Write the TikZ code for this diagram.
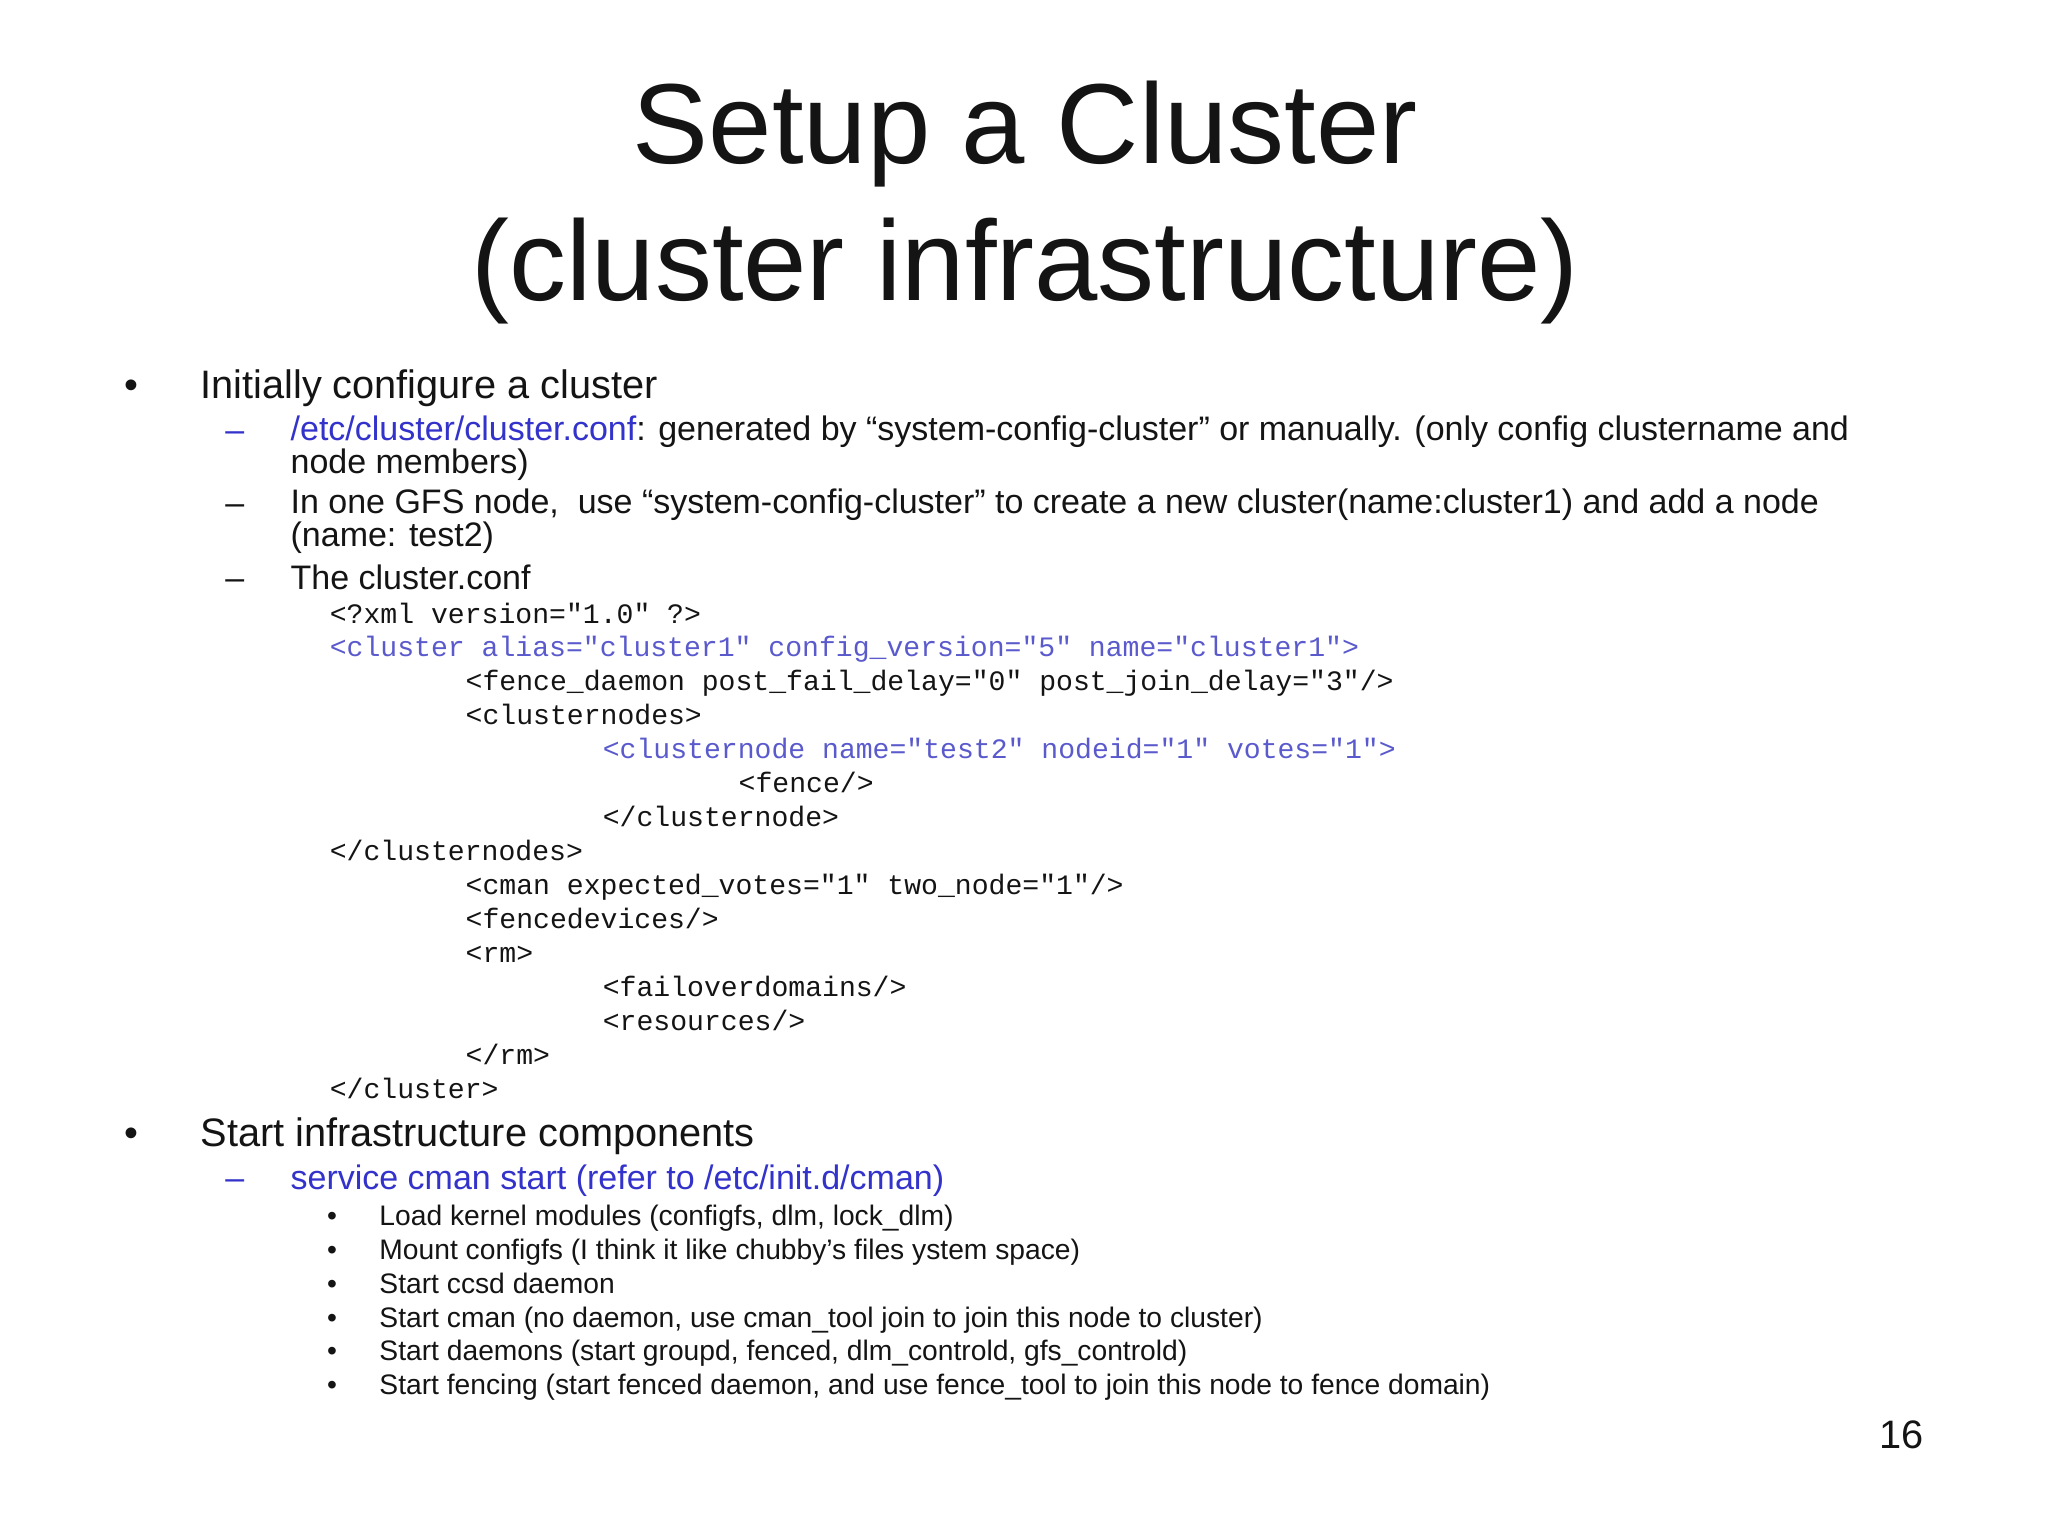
\documentclass[tikz,border=0pt]{standalone}
\usepackage{fontspec}
\setmainfont{Liberation Sans}
\newfontfamily\cmono{Liberation Mono}
\definecolor{lnk}{RGB}{51,51,204}
\definecolor{cblue}{RGB}{90,90,205}
\definecolor{ink}{RGB}{20,20,20}
\begin{document}
\begin{tikzpicture}[x=0.01306cm,y=-0.01306cm,
 every node/.style={inner sep=0,anchor=base west,text=ink},
 ttl/.style={font=\fontsize{32.4}{36}\selectfont,anchor=base},
 lone/.style={font=\fontsize{11.3}{13}\selectfont},
 ltwo/.style={font=\fontsize{9.67}{9.3}\selectfont,align=left},
 lthree/.style={font=\fontsize{8.03}{9}\selectfont},
 code/.style={font=\cmono\fontsize{8}{9}\selectfont}]
\useasboundingbox (0,0) rectangle (1568,1176);
\fill[white] (0,0) rectangle (1568,1176);
\node[ttl] (t1) at (785,125) {Setup a Cluster};
\node[ttl] (t2) at (785,230) {(cluster infrastructure)};
\node[lone] (b1) at (95,305) {•};
\node[lone] (b1t) at (153,305) {Initially configure a cluster};
\node[ltwo,text=lnk] (d1) at (172,338) {–};
\node[ltwo,anchor=north west] (d1t) at (222,318) {\textcolor{lnk}{/etc/cluster/cluster.conf}: generated by “system-config-cluster” or manually. (only config clustername and\\node members)};
\node[ltwo] (d2) at (172,394) {–};
\node[ltwo,anchor=north west] (d2t) at (222,374) {In one GFS node,\ \ use “system-config-cluster” to create a new cluster(name:cluster1) and add a node\\(name: test2)};
\node[ltwo] (d3) at (172,451) {–};
\node[ltwo] (d3t) at (222,451) {The cluster.conf};
\node[code] (c1) at (252,477) {<?xml version="1.0" ?>};
\node[code,text=cblue] (c2) at (252,503) {<cluster alias="cluster1" config\_version="5" name="cluster1">};
\node[code] (c3) at (356,529) {<fence\_daemon post\_fail\_delay="0" post\_join\_delay="3"/>};
\node[code] (c4) at (356,555) {<clusternodes>};
\node[code,text=cblue] (c5) at (461,581) {<clusternode name="test2" nodeid="1" votes="1">};
\node[code] (c6) at (565,607) {<fence/>};
\node[code] (c7) at (461,633) {</clusternode>};
\node[code] (c8) at (252,659) {</clusternodes>};
\node[code] (c9) at (356,685) {<cman expected\_votes="1" two\_node="1"/>};
\node[code] (c10) at (356,711) {<fencedevices/>};
\node[code] (c11) at (356,737) {<rm>};
\node[code] (c12) at (461,763) {<failoverdomains/>};
\node[code] (c13) at (461,789) {<resources/>};
\node[code] (c14) at (356,815) {</rm>};
\node[code] (c15) at (252,841) {</cluster>};
\node[lone] (b2) at (95,878) {•};
\node[lone] (b2t) at (153,878) {Start infrastructure components};
\node[ltwo,text=lnk] (d4) at (172,911) {–};
\node[ltwo,text=lnk] (d4t) at (222,911) {service cman start (refer to /etc/init.d/cman)};
\foreach \y/\t [count=\i] in {938/{Load kernel modules (configfs, dlm, lock\_dlm)},
 964/{Mount configfs (I think it like chubby’s files ystem space)},
 990/{Start ccsd daemon},
 1016/{Start cman (no daemon, use cman\_tool join to join this node to cluster)},
 1042/{Start daemons (start groupd, fenced, dlm\_controld, gfs\_controld)},
 1068/{Start fencing (start fenced daemon, and use fence\_tool to join this node to fence domain)}}{
 \node[lthree] (s\i) at (250,\y) {•};
 \node[lthree] (st\i) at (290,\y) {\t};
}
\node[lone,anchor=base east] (pg) at (1473,1109) {16};
\end{tikzpicture}
\end{document}
